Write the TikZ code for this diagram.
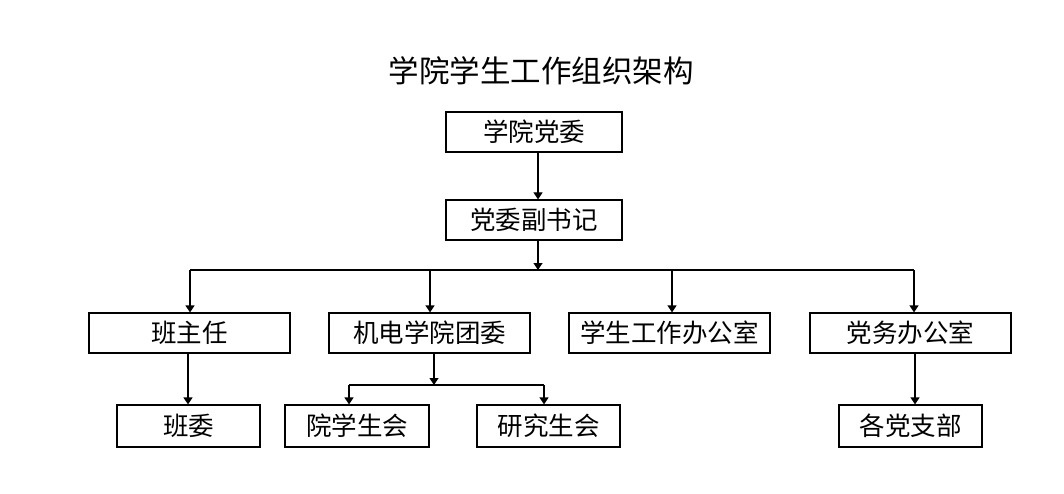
\documentclass[tikz,border=0pt]{standalone}
\usepackage{fontspec}
\setmainfont{Noto Sans CJK SC}
\usetikzlibrary{arrows.meta}
\begin{document}
\begin{tikzpicture}[x=1pt,y=-1pt,
  box/.style={draw,line width=1.2pt,inner sep=0pt,minimum height=40pt,font=\fontsize{25.5}{28}\selectfont},
  low/.style={box,minimum height=42pt},
  arr/.style={line width=1.2pt,-{Triangle[width=9pt,length=7pt]}},
  ln/.style={line width=1.2pt}]
\fill[white] (0,0) rectangle (1064,494);
\useasboundingbox (0,0) rectangle (1064,494);
\node[font=\fontsize{30.5}{34}\selectfont] (title) at (541,71) {学院学生工作组织架构};
\node[box,minimum width=176pt] (dw) at (534,132) {学院党委};
\node[box,minimum width=176pt] (fsj) at (534,220) {党委副书记};
\node[box,minimum width=201pt] (bzr) at (189.5,333) {班主任};
\node[box,minimum width=201pt] (tw) at (429.5,333) {机电学院团委};
\node[box,minimum width=201pt] (xg) at (669.5,333) {学生工作办公室};
\node[box,minimum width=201pt] (dwb) at (910.5,333) {党务办公室};
\node[low,minimum width=143pt] (bw) at (188.5,426) {班委};
\node[low,minimum width=144pt] (ysh) at (357,426) {院学生会};
\node[low,minimum width=143pt] (yjs) at (548.5,426) {研究生会};
\node[low,minimum width=143pt] (dzb) at (910.5,426) {各党支部};
\coordinate (j) at (538,270);
\coordinate (jl) at (190,270);
\coordinate (jr) at (914,270);
\coordinate (j2) at (430,270);
\coordinate (j3) at (672,270);
\coordinate (b1) at (188,353);
\coordinate (k) at (434,385);
\coordinate (kl) at (349,385);
\coordinate (kr) at (544,385);
\draw[arr] ([xshift=4pt]dw.south) -- ([xshift=4pt]fsj.north);
\draw[arr] ([xshift=4pt]fsj.south) -- (j);
\draw[ln] (jl) -- (jr);
\draw[arr] (jl) -- (jl |- bzr.north);
\draw[arr] (j2) -- (j2 |- tw.north);
\draw[arr] (j3) -- (j3 |- xg.north);
\draw[arr] (jr) -- (jr |- dwb.north);
\draw[arr] (b1) -- (b1 |- bw.north);
\draw[arr] ([xshift=4.5pt]tw.south) -- (k);
\draw[ln] (kl) -- (kr);
\draw[arr] (kl) -- (kl |- ysh.north);
\draw[arr] (kr) -- (kr |- yjs.north);
\draw[arr] ([xshift=4.5pt]dwb.south) -- ([xshift=4.5pt]dwb.south |- dzb.north);
\end{tikzpicture}
\end{document}
